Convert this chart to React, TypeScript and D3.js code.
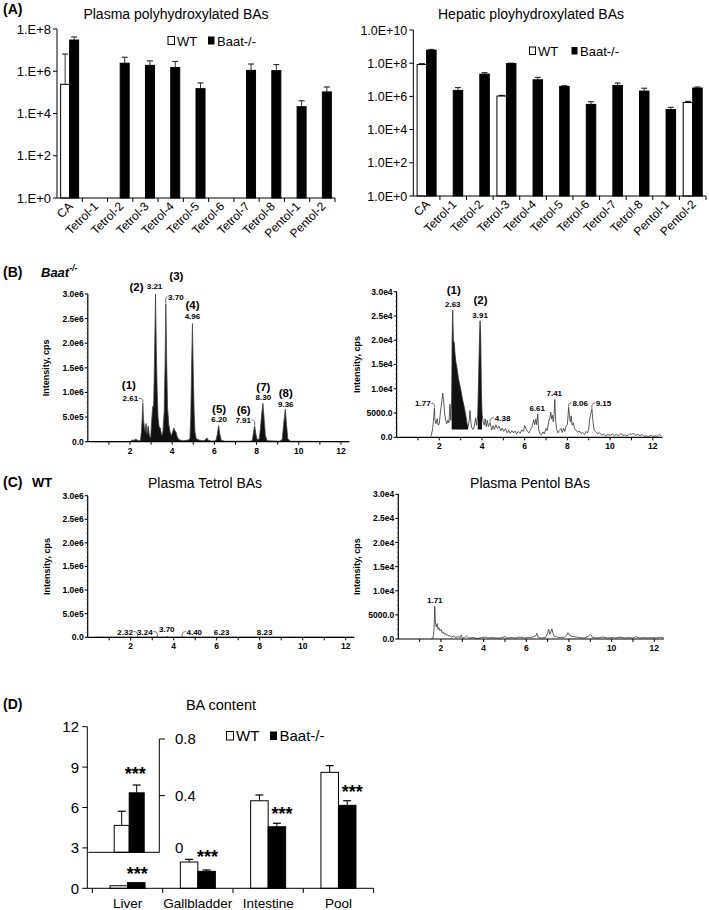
import React from 'react';
import * as d3 from 'd3';

const FONT = '"Liberation Sans", Arial, sans-serif';

// ---- (A) polyhydroxylated BAs (log scale) ----
const baCategories = ['CA', 'Tetrol-1', 'Tetrol-2', 'Tetrol-3', 'Tetrol-4', 'Tetrol-5', 'Tetrol-6', 'Tetrol-7', 'Tetrol-8', 'Pentol-1', 'Pentol-2'];
const plasmaWT = [2.4e5, null, null, null, null, null, null, null, null, null, null];
const plasmaWTSd = [6.3e6, null, null, null, null, null, null, null, null, null, null];
const plasmaBaat = [3.0e7, null, 2.4e6, 1.9e6, 1.5e6, 1.5e5, null, 1.1e6, 1.07e6, 2.1e4, 1.05e5];
const plasmaBaatSd = [1.2e7, null, 2.2e6, 1.2e6, 1.4e6, 1.3e5, null, 1.1e6, 1.0e6, 1.9e4, 7.5e4];
const plasmaTickLabels = ['1.E+0', '1.E+2', '1.E+4', '1.E+6', '1.E+8'];

const hepaticWT = [8.3e7, null, null, 1.05e6, null, null, null, null, null, null, 4.3e5];
const hepaticWTSd = [1.2e7, null, null, 1.0e5, null, null, null, null, null, null, 7e4];
const hepaticBaat = [6.1e8, 2.3e6, 2.2e7, 9.5e7, 1.0e7, 4.0e6, 3.3e5, 4.6e6, 2.1e6, 1.6e5, 3.2e6];
const hepaticBaatSd = [6e7, 1.1e6, 5e6, 5e6, 4e6, 4e5, 1.5e5, 1.8e6, 1.0e6, 6e4, 5e5];
const hepaticTickLabels = ['1.0E+0', '1.0E+2', '1.0E+4', '1.0E+6', '1.0E+8', '1.0E+10'];

// ---- (B)/(C) chromatograms: [retention time (min), intensity] ----
// Baat-/- plasma tetrols, intensity in 1e6 cps
const tetrolBaat = [
  [0.3, 0], [1.9, 0], [2.05, 0.01], [2.12, 0.04], [2.18, 0.02], [2.25, 0.05], [2.32, 0.04], [2.4, 0.02], [2.5, 0.03],
  [2.55, 0.25], [2.58, 0.5], [2.61, 0.78], [2.64, 0.45], [2.68, 0.3], [2.72, 0.2], [2.76, 0.37], [2.8, 0.15], [2.86, 0.32],
  [2.92, 0.12], [2.98, 0.08], [3.03, 0.45], [3.08, 0.72], [3.12, 0.7], [3.16, 1.6], [3.21, 3.0], [3.25, 1.8], [3.29, 1.0],
  [3.33, 0.5], [3.38, 0.3], [3.44, 0.28], [3.5, 0.12], [3.56, 0.2], [3.62, 0.6], [3.66, 1.5], [3.70, 2.8], [3.74, 1.6],
  [3.78, 0.7], [3.84, 0.35], [3.9, 0.2], [3.96, 0.12], [4.02, 0.2], [4.08, 0.28], [4.13, 0.22], [4.18, 0.2], [4.24, 0.1],
  [4.32, 0.04], [4.5, 0.02], [4.7, 0.03], [4.84, 0.05], [4.88, 0.5], [4.92, 1.5], [4.96, 2.4], [5.0, 1.4], [5.04, 0.6],
  [5.08, 0.2], [5.14, 0.06], [5.3, 0.03], [5.5, 0.02], [5.6, 0.05], [5.65, 0.08], [5.7, 0.03], [5.9, 0.01], [6.08, 0.03],
  [6.14, 0.15], [6.2, 0.33], [6.26, 0.15], [6.32, 0.03], [6.5, 0.01], [7.7, 0.01], [7.8, 0.03], [7.85, 0.18], [7.91, 0.32],
  [7.97, 0.15], [8.03, 0.04], [8.12, 0.05], [8.18, 0.25], [8.24, 0.55], [8.30, 0.78], [8.36, 0.45], [8.42, 0.12], [8.5, 0.02],
  [9.1, 0.01], [9.22, 0.05], [9.28, 0.35], [9.36, 0.66], [9.42, 0.35], [9.48, 0.06], [9.6, 0.01], [12.4, 0],
];
// Baat-/- plasma pentols, intensity in 1e3 cps
const pentolBaat = [
  [1.55, 0], [1.62, 0.3], [1.68, 1.5], [1.72, 3], [1.77, 6.0], [1.8, 3.5], [1.85, 2.8], [1.9, 3.8], [1.95, 2.5], [2.0, 2.8],
  [2.05, 5], [2.12, 7.5], [2.16, 9.1], [2.2, 7.8], [2.25, 5], [2.3, 3.5], [2.35, 2.8], [2.4, 3.5], [2.45, 3.0], [2.5, 6.8],
  [2.54, 3.5], [2.58, 8], [2.6, 19.8], [2.63, 26.2], [2.66, 20], [2.7, 19.5], [2.74, 17], [2.78, 15.5], [2.84, 14], [2.9, 12],
  [2.96, 10.8], [3.02, 9.5], [3.08, 8], [3.14, 6.8], [3.2, 5.5], [3.26, 4], [3.3, 2.8], [3.35, 2.2], [3.4, 3.5], [3.44, 5.5],
  [3.48, 3], [3.52, 2], [3.58, 1.6], [3.64, 2.2], [3.7, 4], [3.74, 2.5], [3.8, 4.5], [3.84, 12], [3.88, 20], [3.91, 24],
  [3.94, 21], [3.97, 10], [4.0, 5], [4.05, 3.2], [4.1, 2.5], [4.15, 3.8], [4.2, 2.2], [4.25, 3.5], [4.3, 2.2], [4.38, 3.0],
  [4.45, 1.5], [4.52, 2.4], [4.58, 1.6], [4.65, 2.6], [4.72, 1.8], [4.8, 2.3], [4.88, 1.3], [4.95, 1.9], [5.02, 1.2], [5.1, 1.8],
  [5.18, 0.9], [5.25, 1.5], [5.32, 0.8], [5.4, 1.4], [5.48, 0.9], [5.55, 1.3], [5.62, 0.7], [5.7, 1.2], [5.78, 0.8], [5.86, 1.5],
  [5.94, 1.2], [6.0, 2.4], [6.06, 1.8], [6.12, 1.3], [6.2, 0.9], [6.28, 1.6], [6.35, 2.2], [6.42, 3.6], [6.47, 2.6], [6.52, 3.8],
  [6.56, 2.6], [6.61, 4.8], [6.65, 1.8], [6.7, 0.8], [6.78, 0.5], [6.86, 1.1], [6.92, 0.7], [7.0, 1.8], [7.06, 1.4], [7.12, 3.2],
  [7.18, 4.0], [7.22, 5.2], [7.26, 3.8], [7.3, 4.5], [7.34, 3.2], [7.38, 5], [7.41, 7.8], [7.45, 3.5], [7.5, 1.6], [7.56, 0.9],
  [7.62, 1.4], [7.7, 1.8], [7.76, 1.0], [7.82, 1.9], [7.88, 1.2], [7.94, 2.4], [8.0, 2.6], [8.03, 4.5], [8.06, 6.2], [8.1, 4.2],
  [8.14, 3.2], [8.18, 4.4], [8.22, 2.5], [8.28, 3.0], [8.34, 1.8], [8.4, 1.4], [8.48, 1.1], [8.56, 1.3], [8.64, 0.8], [8.72, 1.0],
  [8.8, 0.6], [8.88, 1.2], [8.94, 0.9], [9.0, 1.8], [9.05, 3.8], [9.1, 5.0], [9.15, 5.8], [9.2, 3.2], [9.25, 1.5], [9.32, 1.2],
  [9.4, 0.8], [9.5, 0.9], [9.6, 0.5], [9.7, 0.6], [9.8, 0.3], [9.9, 0.6], [10.0, 0.4], [10.1, 0.7], [10.2, 0.4], [10.3, 0.6],
  [10.4, 0.3], [10.5, 0.8], [10.6, 0.4], [10.7, 0.5], [10.8, 0.3], [10.9, 0.7], [11.0, 0.6], [11.1, 0.8], [11.2, 0.4], [11.3, 0.6],
  [11.4, 0.3], [11.5, 0.6], [11.6, 0.2], [11.7, 0.3], [11.8, 0.2], [11.9, 0.4], [12.0, 0.2], [12.1, 0.3], [12.2, 0.2], [12.3, 0.6], [12.4, 0.3],
];
const pentolBaatIntegrated = [[2.58, 3.36], [3.78, 4.03]];
const pentolBaatBaseline = 1.6;
// WT plasma tetrols (1e6 cps) and pentols (1e3 cps)
const tetrolWT = [
  [0.3, 0], [2.25, 0], [2.32, 0.006], [2.4, 0], [3.18, 0], [3.24, 0.005], [3.3, 0], [3.64, 0], [3.70, 0.02], [3.76, 0],
  [4.34, 0], [4.40, 0.005], [4.48, 0], [6.18, 0], [6.23, 0.004], [6.3, 0], [8.18, 0], [8.23, 0.004], [8.3, 0], [12.4, 0],
];
const pentolWT = [
  [1.55, 0], [1.62, 0.2], [1.67, 1.5], [1.71, 6.8], [1.74, 3.5], [1.78, 2.5], [1.82, 3.2], [1.86, 2.0], [1.9, 2.4], [1.95, 1.7],
  [2.0, 2.0], [2.05, 1.3], [2.1, 1.5], [2.15, 1.0], [2.2, 1.2], [2.25, 0.8], [2.3, 0.9], [2.35, 0.6], [2.4, 0.7], [2.5, 0.4],
  [2.6, 0.6], [2.7, 0.3], [2.8, 0.5], [2.9, 0.3], [2.95, 0.8], [3.0, 0.2], [3.1, 0.3], [3.2, 0.6], [3.3, 0.2], [3.5, 0.3],
  [3.7, 0.1], [3.9, 0.3], [4.1, 0.4], [4.2, 0.2], [4.4, 0.3], [4.6, 0.2], [4.8, 0.2], [5.0, 0.5], [5.1, 0.2], [5.3, 0.3],
  [5.5, 0.2], [5.7, 0.4], [5.9, 0.2], [6.1, 0.3], [6.3, 0.4], [6.45, 0.7], [6.5, 1.2], [6.55, 0.4], [6.7, 0.2], [6.9, 0.3],
  [7.0, 1.2], [7.05, 2.0], [7.1, 1.0], [7.15, 1.4], [7.2, 2.1], [7.25, 1.2], [7.3, 0.6], [7.45, 0.4], [7.6, 0.3], [7.8, 0.4],
  [7.9, 0.8], [7.95, 1.3], [8.0, 0.9], [8.1, 0.6], [8.2, 0.5], [8.35, 0.4], [8.5, 0.3], [8.7, 0.2], [8.9, 0.5], [9.0, 1.0],
  [9.05, 0.8], [9.1, 0.3], [9.3, 0.2], [9.6, 0.4], [9.8, 0.2], [10.0, 0.3], [10.2, 0.2], [10.4, 0.4], [10.6, 0.2], [10.8, 0.3],
  [11.0, 0.2], [11.15, 0.5], [11.3, 0.2], [11.5, 0.3], [11.7, 0.2], [11.9, 0.3], [12.1, 0.2], [12.3, 0.4], [12.45, 0.2],
];
const tetrolTicks = [0, 0.5, 1, 1.5, 2, 2.5, 3];
const tetrolTickLabels = ['0.0', '5.0e5', '1.0e6', '1.5e6', '2.0e6', '2.5e6', '3.0e6'];
const pentolTicks = [0, 5, 10, 15, 20, 25, 30];
const pentolTickLabels = ['0.0', '5000.0', '1.0e4', '1.5e4', '2.0e4', '2.5e4', '3.0e4'];

// peak annotations: retention time, printed label, peak number
const tetrolBaatPeaks = [
  { rt: 2.61, label: '2.61', tag: '(1)' }, { rt: 3.21, label: '3.21', tag: '(2)' }, { rt: 3.70, label: '3.70', tag: '(3)' },
  { rt: 4.96, label: '4.96', tag: '(4)' }, { rt: 6.20, label: '6.20', tag: '(5)' }, { rt: 7.91, label: '7.91', tag: '(6)' },
  { rt: 8.30, label: '8.30', tag: '(7)' }, { rt: 9.36, label: '9.36', tag: '(8)' },
];
const pentolBaatPeaks = [
  { rt: 1.77, label: '1.77', tag: '' }, { rt: 2.63, label: '2.63', tag: '(1)' }, { rt: 3.91, label: '3.91', tag: '(2)' },
  { rt: 4.38, label: '4.38', tag: '' }, { rt: 6.61, label: '6.61', tag: '' }, { rt: 7.41, label: '7.41', tag: '' },
  { rt: 8.06, label: '8.06', tag: '' }, { rt: 9.15, label: '9.15', tag: '' },
];
const tetrolWTPeaks = [
  { rt: 2.32, label: '2.32', tag: '' }, { rt: 3.24, label: '3.24', tag: '' }, { rt: 3.70, label: '3.70', tag: '' },
  { rt: 4.40, label: '4.40', tag: '' }, { rt: 6.23, label: '6.23', tag: '' }, { rt: 8.23, label: '8.23', tag: '' },
];
const pentolWTPeaks = [{ rt: 1.71, label: '1.71', tag: '' }];

// label placement (pixels, relative to the peak apex)
const tetrolBaatLayout = [
  { dx: -12.5, dy: -2, tdx: -14, tdy: -14, lead: true }, { dx: -1, dy: -5, tdx: -19, tdy: -3 },
  { dx: 10, dy: -4, tdx: 10.5, tdy: -24, lead: true }, { dx: 0, dy: -5, tdx: 0, tdy: -15 },
  { dx: 0.5, dy: -3, tdx: 0.5, tdy: -12 }, { dx: -11.5, dy: -3, tdx: -11, tdy: -12, lead: true },
  { dx: 0.5, dy: -3, tdx: 0.5, tdy: -12.5 }, { dx: 0.5, dy: -2, tdx: 0.5, tdy: -12.5 },
];
const pentolBaatLayout = [
  { dx: -11.5, dy: -2, lead: true }, { dx: 0, dy: -3, tdx: 1, tdy: -16 }, { dx: 0, dy: -3, tdx: 0.5, tdy: -17 },
  { dx: 12.5, dy: -2, lead: true }, { dx: -0.5, dy: -3 }, { dx: -0.5, dy: -3 },
  { dx: 11.5, dy: -1.5, lead: true }, { dx: 11.5, dy: -3, lead: true },
];
const tetrolWTLayout = [
  { dx: -12.5, dy: -2.5, lead: true }, { dx: -12.5, dy: -2.5, lead: true }, { dx: -0.5, dy: -4 },
  { dx: 12, dy: -2.5, lead: true }, { dx: 0, dy: -2.5 }, { dx: 0, dy: -2.5 },
];
const pentolWTLayout = [{ dx: 0, dy: -3 }];

// ---- (D) BA content ----
const contentCategories = ['Liver', 'Gallbladder', 'Intestine', 'Pool'];
const contentWT = [0.19, 1.95, 6.5, 8.61];
const contentWTSd = [0.1, 0.2, 0.43, 0.5];
const contentBaat = [0.42, 1.26, 4.57, 6.16];
const contentBaatSd = [0.055, 0.1, 0.26, 0.34];
const contentTicks = [0, 3, 6, 9, 12];
const insetTicks = [0, 0.4, 0.8];

const Legend = ({ x, y, size, font, gap }) => (
  <g fontSize={font}>
    <rect x={x} y={y - size} width={size - 1.5} height={size} fill="white" stroke="black" strokeWidth={1} />
    <text x={x + size + 1} y={y + 1}>WT</text>
    <rect x={x + gap} y={y - size} width={size - 1.5} height={size} fill="black" />
    <text x={x + gap + size + 1} y={y + 1}>Baat-/-</text>
  </g>
);

const LogBars = ({ wt, wtSd, ko, koSd, yMax, tickLabels, x0, x1, yTop, yBot, barW, tickFont }) => {
  const x = d3.scaleBand().domain(baCategories).range([x0, x1]);
  const y = d3.scaleLog().domain([1, yMax]).range([yBot, yTop]);
  const bw = x.bandwidth();
  const marks = [];
  baCategories.forEach((c, i) => {
    const cx = x(c) + bw / 2;
    const series = [[wt, wtSd, 'white', cx - barW], [ko, koSd, 'black', cx]];
    series.forEach(([vals, sds, fill, left], j) => {
      const v = vals[i];
      if (v == null) return;
      const top = y(v + sds[i]);
      const mid = left + barW / 2;
      marks.push(
        <g key={c + j}>
          <line x1={mid} x2={mid} y1={y(v)} y2={top} stroke="#333" strokeWidth={1} />
          <line x1={mid - 3} x2={mid + 3} y1={top} y2={top} stroke="#333" strokeWidth={1.2} />
          <rect x={left} y={y(v)} width={barW} height={yBot - y(v)} fill={fill} stroke="black" strokeWidth={1} />
        </g>
      );
    });
  });
  return (
    <g>
      {marks}
      <line x1={x0} x2={x0} y1={yTop} y2={yBot} stroke="black" />
      <line x1={x0} x2={x1} y1={yBot} y2={yBot} stroke="black" />
      {tickLabels.map((t, i) => {
        const yy = y(Math.pow(10, 2 * i));
        return (
          <g key={t}>
            <line x1={x0 - 4} x2={x0} y1={yy} y2={yy} stroke="black" />
            <text x={x0 - 6} y={yy} dy="0.36em" textAnchor="end" fontSize={tickFont}>{t}</text>
          </g>
        );
      })}
      {baCategories.map((c, i) => (
        <line key={c} x1={x0 + (i + 1) * bw} x2={x0 + (i + 1) * bw} y1={yBot} y2={yBot + 4} stroke="black" />
      ))}
      {baCategories.map((c) => {
        const cx = x(c) + bw / 2 + 4;
        return (
          <text key={c} transform={`translate(${cx},${yBot + 9}) rotate(-45)`} textAnchor="end" fontSize={12}>{c}</text>
        );
      })}
    </g>
  );
};

const Chrom = ({ trace, xr, xMax, yr, yMax, ticks, tickLabels, peaks, layout, fillAll, fills, baseline, yLabelX }) => {
  const x = d3.scaleLinear().domain([0, xMax]).range(xr);
  const y = d3.scaleLinear().domain([0, yMax]).range(yr);
  const line = d3.line().x((d) => x(d[0])).y((d) => y(d[1]));
  const area = d3.area().x((d) => x(d[0])).y0(y(0)).y1((d) => y(d[1]));
  const minor = d3.range(0, yMax + 1e-9, yMax / 30);
  const xt = d3.range(1, Math.floor(xMax) + 1);
  return (
    <g>
      {fillAll && <path d={area(trace)} fill="#111" />}
      {fills && fills.map(([a, b], i) => {
        const seg = trace.filter((d) => d[0] >= a && d[0] <= b);
        const ar = d3.area().x((d) => x(d[0])).y0(y(baseline)).y1((d) => y(d[1]));
        return <path key={i} d={ar(seg)} fill="#111" />;
      })}
      <path d={line(trace)} fill="none" stroke={fillAll ? '#444' : '#333'} strokeWidth={0.8} />
      <line x1={xr[0]} x2={xr[0]} y1={yr[1]} y2={yr[0]} stroke="black" strokeWidth={1.2} />
      <line x1={xr[0]} x2={xr[1]} y1={yr[0]} y2={yr[0]} stroke="black" strokeWidth={1.2} />
      {minor.map((v, i) => (
        <line key={'m' + i} x1={xr[0] - 1.5} x2={xr[0]} y1={y(v)} y2={y(v)} stroke="#555" strokeWidth={0.6} />
      ))}
      {ticks.map((v, i) => (
        <g key={v}>
          <line x1={xr[0] - 3} x2={xr[0]} y1={y(v)} y2={y(v)} stroke="black" />
          <text x={xr[0] - 4} y={y(v)} dy="0.35em" textAnchor="end" fontSize={8.5} fontWeight="bold">{tickLabels[i]}</text>
        </g>
      ))}
      {xt.map((t) => (
        <g key={t}>
          <line x1={x(t)} x2={x(t)} y1={yr[0]} y2={yr[0] + 3} stroke="black" />
          {t % 2 === 0 && (
            <text x={x(t)} y={yr[0] + 12} textAnchor="middle" fontSize={8.5} fontWeight="bold">{t}</text>
          )}
        </g>
      ))}
      <text transform={`translate(${yLabelX},${(yr[0] + yr[1]) / 2}) rotate(-90)`} textAnchor="middle" fontSize={9} fontWeight="bold" dy="0.35em">Intensity, cps</text>
      {peaks.map((p, i) => {
        const L = layout[i];
        const apex = trace.reduce((best, d) => (Math.abs(d[0] - p.rt) < Math.abs(best[0] - p.rt) ? d : best), trace[0]);
        const ax = x(apex[0]);
        const ay = y(apex[1]);
        const lx = ax + L.dx;
        const ly = ay + L.dy;
        const s = L.dx < 0 ? 1 : -1;
        return (
          <g key={p.rt}>
            {L.lead && (
              <path d={`M${lx + s * 8.5},${ly - 3} Q${ax + s * 1},${ly - 3} ${ax},${ay - 0.5}`} fill="none" stroke="#333" strokeWidth={0.7} />
            )}
            <text x={lx} y={ly} textAnchor="middle" fontSize={8} fontWeight="bold">{p.label}</text>
            {p.tag && (
              <text x={ax + L.tdx} y={ay + L.tdy} textAnchor="middle" fontSize={11.5} fontWeight="bold">{p.tag}</text>
            )}
          </g>
        );
      })}
    </g>
  );
};

const Content = () => {
  const x0 = 87.3;
  const x = d3.scaleBand().domain(contentCategories).range([92.4, 373.6]);
  const y = d3.scaleLinear().domain([0, 12]).range([888.3, 726.7]);
  const yi = d3.scaleLinear().domain([0, 0.8]).range([852.3, 739]);
  const bw = x.bandwidth();
  const barW = 17.5;
  const ix = 129.2;
  const iw = 15;
  const star = (cx, cy, k) => (
    <text key={k} x={cx} y={cy + 10} textAnchor="middle" fontSize={18} fontWeight="bold">***</text>
  );
  return (
    <g>
      {contentCategories.map((c, i) => {
        const cx = x(c) + bw / 2;
        const items = [[contentWT[i], contentWTSd[i], 'white', cx - barW], [contentBaat[i], contentBaatSd[i], 'black', cx]];
        return (
          <g key={c}>
            {items.map(([v, sd, fill, left], j) => {
              const mid = left + barW / 2;
              const top = y(v + sd);
              return (
                <g key={j}>
                  {i > 0 && <line x1={mid} x2={mid} y1={y(v)} y2={top} stroke="black" />}
                  {i > 0 && <line x1={mid - 4} x2={mid + 4} y1={top} y2={top} stroke="black" strokeWidth={1.2} />}
                  <rect x={left} y={y(v)} width={barW} height={888.3 - y(v)} fill={fill} stroke="black" strokeWidth={1} />
                </g>
              );
            })}
            {star(cx + barW / 2 + (i > 1 ? 5 : 1), y(contentBaat[i] + (i > 0 ? contentBaatSd[i] : 0)) - (i === 1 ? 17 : 13), 's' + i)}
            <text x={cx} y={908} textAnchor="middle" fontSize={13.5}>{c}</text>
          </g>
        );
      })}
      <line x1={x0} x2={x0} y1={726.7} y2={888.3} stroke="black" />
      <line x1={x0} x2={373.6} y1={888.3} y2={888.3} stroke="black" />
      {contentTicks.map((t) => (
        <g key={t}>
          <line x1={x0 - 5} x2={x0} y1={y(t)} y2={y(t)} stroke="black" />
          <text x={79} y={y(t)} dy="0.36em" textAnchor="end" fontSize={15}>{t}</text>
        </g>
      ))}
      {contentCategories.map((c, i) => (
        <line key={c} x1={92.4 + i * bw} x2={92.4 + i * bw} y1={888.3} y2={893} stroke="black" />
      ))}
      <line x1={373.6} x2={373.6} y1={888.3} y2={893} stroke="black" />
      {/* inset for liver */}
      {[[contentWT[0], contentWTSd[0], 'white', ix - iw], [contentBaat[0], contentBaatSd[0], 'black', ix]].map(([v, sd, fill, left], j) => {
        const mid = left + iw / 2;
        const top = yi(v + sd);
        return (
          <g key={'i' + j}>
            <line x1={mid} x2={mid} y1={yi(v)} y2={top} stroke="black" />
            <line x1={mid - 4} x2={mid + 4} y1={top} y2={top} stroke="black" strokeWidth={1.2} />
            <rect x={left} y={yi(v)} width={iw} height={852.3 - yi(v)} fill={fill} stroke="black" strokeWidth={1} />
          </g>
        );
      })}
      {star(ix + 6, yi(contentBaat[0] + contentBaatSd[0]) - 15, 'is')}
      <line x1={88.3} x2={159.3} y1={852.3} y2={852.3} stroke="black" />
      <line x1={159.3} x2={159.3} y1={739} y2={852.3} stroke="black" />
      {insetTicks.map((t) => (
        <g key={'it' + t}>
          {t > 0 && <line x1={159.3} x2={165} y1={yi(t)} y2={yi(t)} stroke="black" />}
          <text x={175} y={yi(t) - (t === 0 ? 5 : 0)} dy="0.36em" fontSize={15}>{t}</text>
        </g>
      ))}
    </g>
  );
};

const App = () => (
  <svg width={709} height={910} style={{ position: 'absolute', left: 0, top: 0 }} fontFamily={FONT}>
    <rect width={709} height={910} fill="white" />
    {/* (A) */}
    <text x={3} y={14} fontSize={14} fontWeight="bold">(A)</text>
    <text x={176} y={19} textAnchor="middle" fontSize={14}>Plasma polyhydroxylated BAs</text>
    <text x={531} y={19} textAnchor="middle" fontSize={14}>Hepatic ployhydroxylated BAs</text>
    <LogBars wt={plasmaWT} wtSd={plasmaWTSd} ko={plasmaBaat} koSd={plasmaBaatSd} yMax={1e8}
      tickLabels={plasmaTickLabels} x0={57} x1={335} yTop={29} yBot={198} barW={9} tickFont={13} />
    <LogBars wt={hepaticWT} wtSd={hepaticWTSd} ko={hepaticBaat} koSd={hepaticBaatSd} yMax={1e10}
      tickLabels={hepaticTickLabels} x0={413.3} x1={706} yTop={30} yBot={196} barW={9.5} tickFont={12.5} />
    <Legend x={168} y={44.5} size={8} font={13} gap={40} />
    <Legend x={529.5} y={54.5} size={7.5} font={13} gap={42} />

    {/* (B) */}
    <text x={3} y={277} fontSize={14} fontWeight="bold">(B)</text>
    <text x={41} y={277} fontSize={13} fontWeight="bold" fontStyle="italic">Baat<tspan fontSize={8.5} dy={-6}>-/-</tspan></text>
    <Chrom trace={tetrolBaat} xr={[87.8, 349.4]} xMax={12.4} yr={[441.7, 294]} yMax={3}
      ticks={tetrolTicks} tickLabels={tetrolTickLabels} peaks={tetrolBaatPeaks} layout={tetrolBaatLayout}
      fillAll yLabelX={46} />
    <Chrom trace={pentolBaat} xr={[396.6, 662.4]} xMax={12.45} yr={[437.3, 291.7]} yMax={30}
      ticks={pentolTicks} tickLabels={pentolTickLabels} peaks={pentolBaatPeaks} layout={pentolBaatLayout}
      fills={pentolBaatIntegrated} baseline={pentolBaatBaseline} yLabelX={357} />

    {/* (C) */}
    <text x={3} y={487} fontSize={14} fontWeight="bold">(C)</text>
    <text x={32} y={487} fontSize={13} fontWeight="bold">WT</text>
    <text x={205} y={488} textAnchor="middle" fontSize={14}>Plasma Tetrol BAs</text>
    <text x={530} y={488} textAnchor="middle" fontSize={14}>Plasma Pentol BAs</text>
    <Chrom trace={tetrolWT} xr={[87.7, 354.3]} xMax={12.4} yr={[637.3, 495.7]} yMax={3}
      ticks={tetrolTicks} tickLabels={tetrolTickLabels} peaks={tetrolWTPeaks} layout={tetrolWTLayout} yLabelX={47} />
    <Chrom trace={pentolWT} xr={[398.3, 663.9]} xMax={12.45} yr={[639, 494.3]} yMax={30}
      ticks={pentolTicks} tickLabels={pentolTickLabels} peaks={pentolWTPeaks} layout={pentolWTLayout} yLabelX={357} />

    {/* (D) */}
    <text x={3} y={709} fontSize={14} fontWeight="bold">(D)</text>
    <text x={221} y={710} textAnchor="middle" fontSize={14.5}>BA content</text>
    <Legend x={226.5} y={740} size={8.5} font={15} gap={43.5} />
    <Content />
  </svg>
);

export default App;
